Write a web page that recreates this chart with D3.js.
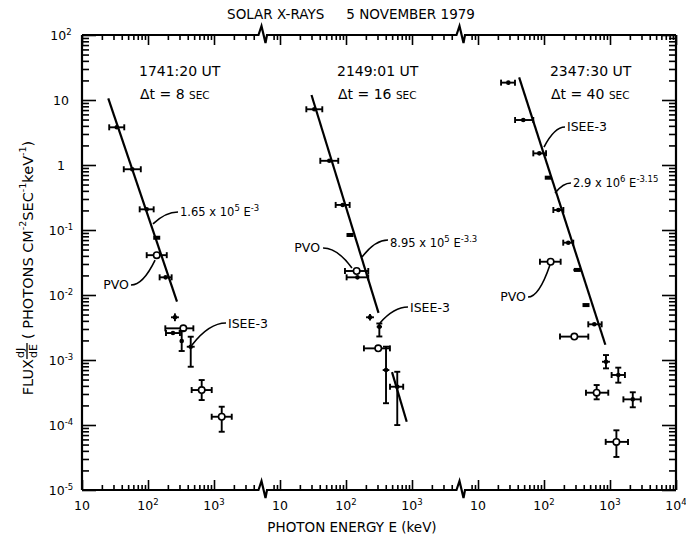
<!DOCTYPE html>
<html>
<head>
<meta charset="utf-8">
<script src="https://cdn.jsdelivr.net/npm/d3@7"></script>
<style>
  html, body { margin: 0; padding: 0; background: #fff; }
  svg { display: block; }
  text { font-family: "DejaVu Sans", sans-serif; fill: #000; }
</style>
</head>
<body>
<svg id="chart" width="686" height="541"></svg>
<script>
// ---------------- data ----------------
const panelTimes     = ["1741:20 UT", "2149:01 UT", "2347:30 UT"];
const panelIntervals = ["8", "16", "40"];          // accumulation time, sec
const headerEnergy   = [73, 73, 123];              // keV where each header starts

// power-law fits  J = A x 10^p  E^-g
const fitMantissa = [1.65, 8.95, 2.9];
const fitPower    = [5, 5, 6];
const fitIndex    = [3, 3.3, 3.15];
const fitIndexText = ["-3", "-3.3", "-3.15"];
const fitRange    = [[25, 275], [30, 311], [42, 850]];   // keV

// points: [E keV, flux, dlogE left, dlogE right, dlogF up, dlogF down, marker]
const points1741 = [
  [33.6, 3.80, 0.114, 0.114, 0, 0, "fill"],
  [57.8, 0.86, 0.129, 0.129, 0, 0, "fill"],
  [95.5, 0.208, 0.106, 0.106, 0, 0, "fill"],
  [135.6, 0.076, 0.04, 0.04, 0, 0, "blk"],
  [135.6, 0.041, 0.152, 0.152, 0.03, 0.03, "open"],
  [185, 0.0187, 0.091, 0.091, 0, 0, "fill"],
  [256, 4.54e-3, 0.06, 0.06, 0.06, 0.06, "fill"],
  [239, 2.6e-3, 0.106, 0.106, 0, 0, "fill"],
  [343, 3.07e-3, 0.273, 0.152, 0, 0, "open"],
  [324, 1.96e-3, 0, 0, 0.154, 0.154, "fill"],
  [444, 1.6e-3, 0.06, 0.06, 0.154, 0.308, "fill"],
  [651, 3.45e-4, 0.152, 0.152, 0.154, 0.154, "open"],
  [1309, 1.34e-4, 0.152, 0.152, 0.154, 0.231, "open"]
];
const points2149 = [
  [33.1, 7.2, 0.121, 0.121, 0, 0, "fill"],
  [55.8, 1.16, 0.136, 0.136, 0, 0, "fill"],
  [89, 0.243, 0.106, 0.106, 0, 0, "fill"],
  [115, 0.0838, 0.04, 0.04, 0, 0, "blk"],
  [145, 0.0234, 0.177, 0.176, 0.03, 0.03, "open"],
  [149, 0.0187, 0.164, 0.164, 0, 0, "fill"],
  [231, 4.54e-3, 0.06, 0.06, 0.05, 0.05, "fill"],
  [320, 3.25e-3, 0.04, 0.04, 0.05, 0.15, "fill"],
  [308, 1.51e-3, 0.217, 0.177, 0.03, 0.03, "open"],
  [404, 7.0e-4, 0.05, 0.05, 0.36, 0.51, "fill"],
  [598, 3.88e-4, 0.11, 0.09, 0.23, 0.59, "fill"]
];
const points2347 = [
  [28.8, 18.5, 0.110, 0.101, 0, 0, "fill"],
  [48.5, 4.92, 0.124, 0.152, 0, 0, "fill"],
  [84.9, 1.51, 0.091, 0.102, 0, 0, "fill"],
  [116, 0.638, 0.04, 0.04, 0, 0, "blk"],
  [165, 0.203, 0.076, 0.076, 0, 0, "fill"],
  [233, 0.0638, 0.076, 0.076, 0, 0, "fill"],
  [320, 0.0243, 0.06, 0.06, 0, 0, "blk"],
  [126, 0.0325, 0.162, 0.152, 0.03, 0.03, "open"],
  [433, 7.0e-3, 0.04, 0.04, 0, 0, "blk"],
  [578, 3.54e-3, 0.091, 0.112, 0, 0, "fill"],
  [288, 2.29e-3, 0.217, 0.212, 0.03, 0.03, "open"],
  [869, 9.4e-4, 0.06, 0.06, 0.103, 0.102, "fill"],
  [1335, 5.88e-4, 0.101, 0.101, 0.113, 0.118, "fill"],
  [628, 3.14e-4, 0.162, 0.176, 0.118, 0.102, "open"],
  [2213, 2.48e-4, 0.142, 0.121, 0.109, 0.122, "fill"],
  [1250, 5.5e-5, 0.162, 0.176, 0.178, 0.232, "open"]
];
const panelPoints = [points1741, points2149, points2347];

// high-energy continuation drawn at 2149:01
const tail2149 = [[498, 6.5e-4], [832, 1.12e-4]];

// labels: [panel, text, E, flux, anchor, leader from (E, flux), leader to (E, flux)]
const instrumentLabels = [
  [0, "PVO",    51.5, 0.0124, "end",   128, 0.0345, 55.2, 0.01426],
  [0, "ISEE-3", 1629, 3.1e-3, "start", 464, 1.70e-3, 1520, 3.71e-3],
  [1, "PVO",    40.4, 0.0459, "end",   123, 0.026, 44.9, 0.0528],
  [1, "ISEE-3", 933, 5.47e-3, "start", 327, 3.71e-3, 869, 6.53e-3],
  [2, "ISEE-3", 223, 3.33,    "start", 100, 1.89, 208, 3.84],
  [2, "PVO",    53.3, 8.09e-3, "end",  123, 0.029, 57.3, 9.3e-3]
];
// fit label placement: [E, flux, leader from (E, flux), leader to (E, flux)]
const fitLabels = [
  [306, 0.164, 119, 0.124, 285, 0.189],
  [464, 0.0547, 175, 0.0385, 433, 0.0702],
  [275, 0.459, 147, 0.371, 256, 0.529]
];

const yDecades = [-5, -4, -3, -2, -1, 0, 1, 2];

// ---------------- layout ----------------
const L = 82, R = 676, T = 35, B = 490;
const svg = d3.select("#chart");

// one continuous log-energy track broken into three segments
const u  = d3.scaleLinear().domain([0, 9]).range([L, R]);
const xs = [0, 1, 2].map(k => d3.scaleLog().domain([10 ** (1 - 3 * k), 10 ** (10 - 3 * k)]).range([L, R]));
const y  = d3.scaleLog().domain([1e-5, 1e2]).range([B, T]);
const breakU = [2.75, 5.75];
const breakX = breakU.map(v => u(v));

// ---------------- frame ----------------
function edgePath(yy) {
  let d = `M${L},${yy}`;
  breakX.forEach(bx => {
    d += `L${bx - 5},${yy}L${bx - 2},${yy - 9}L${bx + 2},${yy + 8}L${bx + 3.5},${yy}`;
  });
  d += `L${R},${yy}`;
  return d;
}
const frame = svg.append("g").attr("fill", "none").attr("stroke", "#000").attr("stroke-width", 2.2);
frame.append("path").attr("d", edgePath(T));
frame.append("path").attr("d", edgePath(B));
frame.append("line").attr("x1", L).attr("x2", L).attr("y1", T).attr("y2", B);
frame.append("line").attr("x1", R).attr("x2", R).attr("y1", T).attr("y2", B);

// ---------------- energy ticks ----------------
function panelTicks(k) {
  const lo = Math.max(0, 3 * k - 0.25), hi = k === 2 ? 9 : 3 * k + 2.75;
  const major = [], minor = [];
  for (let d = 0; d <= 4; d++) {
    for (let m = 1; m <= 9; m++) {
      const E = m * 10 ** d;
      const uu = Math.log10(E) - 1 + 3 * k;
      if (uu < lo - 1e-9 || uu > hi + 1e-9) continue;
      if (breakU.some(b => Math.abs(uu - b) < 0.1)) continue;
      (m === 1 ? major : minor).push(E);
    }
  }
  return { major, minor };
}
function styleAxis(g) {
  g.select(".domain").remove();
  g.selectAll(".tick line").attr("stroke", "#000").attr("stroke-width", 1.6);
}
[0, 1, 2].forEach(k => {
  const { major, minor } = panelTicks(k);
  svg.append("g").attr("transform", `translate(0,${B})`)
    .call(d3.axisBottom(xs[k]).tickValues(minor).tickSize(-5).tickFormat("")).call(styleAxis);
  svg.append("g").attr("transform", `translate(0,${B})`)
    .call(d3.axisBottom(xs[k]).tickValues(major).tickSize(-10).tickFormat("")).call(styleAxis);
  svg.append("g").attr("transform", `translate(0,${T})`)
    .call(d3.axisTop(xs[k]).tickValues(minor).tickSize(-5).tickFormat("")).call(styleAxis);
  svg.append("g").attr("transform", `translate(0,${T})`)
    .call(d3.axisTop(xs[k]).tickValues(major).tickSize(-10).tickFormat("")).call(styleAxis);

  major.forEach(E => {
    const p = Math.round(Math.log10(E));
    const t = svg.append("text").attr("x", xs[k](E)).attr("y", 510)
      .attr("text-anchor", "middle").attr("font-size", 12.5).text("10");
    if (p !== 1) t.append("tspan").attr("dy", -5).attr("font-size", 8.5).text(p);
  });
});

// ---------------- flux ticks ----------------
const yMinor = [], yMajor = [];
yDecades.forEach(e => {
  yMajor.push(10 ** e);
  if (e < 2) for (let m = 2; m <= 9; m++) yMinor.push(m * 10 ** e);
});
svg.append("g").attr("transform", `translate(${L},0)`)
  .call(d3.axisLeft(y).tickValues(yMinor).tickSize(-7).tickFormat("")).call(styleAxis);
svg.append("g").attr("transform", `translate(${L},0)`)
  .call(d3.axisLeft(y).tickValues(yMajor).tickSize(-14).tickFormat("")).call(styleAxis);
svg.append("g").attr("transform", `translate(${R},0)`)
  .call(d3.axisRight(y).tickValues(yMinor).tickSize(-7).tickFormat("")).call(styleAxis);
svg.append("g").attr("transform", `translate(${R},0)`)
  .call(d3.axisRight(y).tickValues(yMajor).tickSize(-14).tickFormat("")).call(styleAxis);

yDecades.forEach(e => {
  const t = svg.append("text").attr("x", 61).attr("y", y(10 ** e) + 4.5)
    .attr("text-anchor", "middle").attr("font-size", 12.5);
  if (e === 0) t.text("1");
  else if (e === 1) t.text("10");
  else { t.text("10"); t.append("tspan").attr("dy", -5).attr("font-size", 8.5).text(e < 0 ? "-" + (-e) : e); }
});

// ---------------- titles ----------------
const title = svg.append("text").attr("x", 351).attr("y", 19).attr("text-anchor", "middle").attr("font-size", 13.5);
title.append("tspan").text("SOLAR X-RAYS");
title.append("tspan").attr("dx", 22).text("5 NOVEMBER 1979");

svg.append("text").attr("x", 352).attr("y", 532).attr("text-anchor", "middle")
  .attr("font-size", 13.5).text("PHOTON ENERGY E (keV)");

// rotated flux label, assembled piece by piece along the baseline
const yl = svg.append("g").attr("transform", "translate(33,268) rotate(-90)");
const ylRow = yl.append("g");
let cx = 0;
function piece(str, size, dy) {
  const t = ylRow.append("text").attr("x", cx).attr("y", dy || 0).attr("font-size", size).text(str);
  cx += t.node().getComputedTextLength();
  return t;
}
piece("FLUX ", 14.5);
// dJ/dE fraction
const fx = cx + 1;
const num = ylRow.append("text").attr("x", fx).attr("y", -9).attr("font-size", 11).text("dJ");
const den = ylRow.append("text").attr("x", fx).attr("y", 4).attr("font-size", 11).text("dE");
const fw = Math.max(num.node().getComputedTextLength(), den.node().getComputedTextLength());
ylRow.append("line").attr("x1", fx - 1).attr("x2", fx + fw + 1).attr("y1", -6).attr("y2", -6)
  .attr("stroke", "#000").attr("stroke-width", 1.3);
cx = fx + fw + 5;
piece("( PHOTONS  CM", 14.5);
piece("-2", 9.5, -7);
piece(" SEC", 14.5);
piece("-1", 9.5, -7);
piece(" keV", 14.5);
piece("-1", 9.5, -7);
piece(" )", 14.5);
ylRow.attr("transform", `translate(${-cx / 2},0)`);

// ---------------- panels ----------------
function leader(g, ax, ay, bx, by) {
  g.append("path")
    .attr("d", `M${ax},${ay}Q${(ax + bx) / 2},${by} ${bx},${by}`)
    .attr("fill", "none").attr("stroke", "#000").attr("stroke-width", 1.6);
}

[0, 1, 2].forEach(k => {
  const x = xs[k];
  const g = svg.append("g");

  // header
  const hx = x(headerEnergy[k]);
  g.append("text").attr("x", hx).attr("y", 76).attr("font-size", 14).text(panelTimes[k]);
  const dt = g.append("text").attr("x", hx + 1).attr("y", 99).attr("font-size", 14);
  dt.append("tspan").text("\u0394t = " + panelIntervals[k] + " ");
  dt.append("tspan").attr("font-size", 10.5).text("SEC");

  // power-law fit
  const A = fitMantissa[k] * 10 ** fitPower[k], gam = fitIndex[k];
  const fitLine = d3.line().x(d => x(d)).y(d => y(A * d ** -gam));
  g.append("path").attr("d", fitLine(fitRange[k])).attr("fill", "none")
    .attr("stroke", "#000").attr("stroke-width", 2.2);

  if (k === 1) {
    g.append("path").attr("d", d3.line().x(d => x(d[0])).y(d => y(d[1]))(tail2149))
      .attr("fill", "none").attr("stroke", "#000").attr("stroke-width", 2.2);
  }

  // data points with error bars
  panelPoints[k].forEach(([E, F, dl, dr, du, dd, kind]) => {
    const px = x(E), py = y(F);
    const bar = g.append("g").attr("stroke", "#000").attr("stroke-width", 1.9).attr("fill", "none");
    if (dl || dr) {
      const x0 = x(E / 10 ** dl), x1 = x(E * 10 ** dr);
      bar.append("line").attr("x1", x0).attr("x2", x1).attr("y1", py).attr("y2", py);
      if (x1 - x0 > 10) [x0, x1].forEach(xx => bar.append("line").attr("x1", xx).attr("x2", xx).attr("y1", py - 3).attr("y2", py + 3));
    }
    if (du || dd) {
      const y0 = y(F * 10 ** du), y1 = y(F / 10 ** dd);
      bar.append("line").attr("x1", px).attr("x2", px).attr("y1", y0).attr("y2", y1);
      if (y1 - y0 > 10) [y0, y1].forEach(yy => bar.append("line").attr("x1", px - 3).attr("x2", px + 3).attr("y1", yy).attr("y2", yy));
    }
    if (kind === "open") {
      g.append("circle").attr("cx", px).attr("cy", py).attr("r", 3.2)
        .attr("fill", "#fff").attr("stroke", "#000").attr("stroke-width", 1.6);
    } else if (kind === "blk") {
      g.append("rect").attr("x", px - 3.5).attr("y", py - 2).attr("width", 7).attr("height", 4).attr("fill", "#000");
    } else {
      g.append("circle").attr("cx", px).attr("cy", py).attr("r", 2.3).attr("fill", "#000");
    }
  });

  // fit label with leader
  const [fE, fF, aE, aF, bE, bF] = fitLabels[k];
  const ft = g.append("text").attr("x", x(fE)).attr("y", y(fF)).attr("font-size", 11.5);
  ft.append("tspan").text(fitMantissa[k] + " x 10");
  ft.append("tspan").attr("dy", -5).attr("font-size", 8.5).text(fitPower[k]);
  ft.append("tspan").attr("dy", 5).text(" E");
  ft.append("tspan").attr("dy", -5).attr("font-size", 8.5).text(fitIndexText[k]);
  leader(g, x(aE), y(aF), x(bE), y(bF));
});

instrumentLabels.forEach(([k, label, E, F, anchor, aE, aF, bE, bF]) => {
  const x = xs[k];
  svg.append("text").attr("x", x(E)).attr("y", y(F)).attr("text-anchor", anchor)
    .attr("font-size", 12.5).text(label);
  leader(svg, x(aE), y(aF), x(bE), y(bF));
});
</script>
</body>
</html>
